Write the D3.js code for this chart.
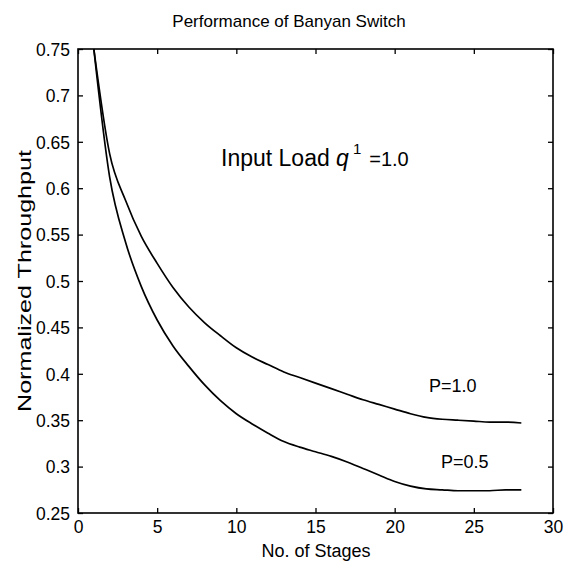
<!DOCTYPE html>
<html>
<head>
<meta charset="utf-8">
<script src="https://cdn.jsdelivr.net/npm/d3@7"></script>
<style>
  html, body { margin: 0; padding: 0; background: #fff; }
  svg { display: block; }
  text { font-family: "Liberation Sans", Arial, Helvetica, sans-serif; fill: #000; }
</style>
</head>
<body>
<svg id="chart" width="567" height="564"></svg>
<script>
// ---- data ----
const stages = [1,2,3,4,5,6,7,8,9,10,11,12,13,14,15,16,17,18,19,20,21,22,23,24,25,26,27,28];
const throughputP10 = [0.750,0.637,0.587,0.548,0.519,0.493,0.472,0.455,0.441,0.428,0.418,0.410,0.402,0.396,0.390,0.384,0.378,0.372,0.367,0.362,0.357,0.353,0.351,0.350,0.349,0.348,0.348,0.347];
const throughputP05 = [0.750,0.612,0.542,0.494,0.458,0.430,0.408,0.388,0.371,0.357,0.346,0.336,0.327,0.321,0.316,0.311,0.305,0.298,0.291,0.284,0.279,0.276,0.275,0.274,0.274,0.274,0.275,0.275];
const xTicks = [0,5,10,15,20,25,30];
const yTicks = [0.25,0.3,0.35,0.4,0.45,0.5,0.55,0.6,0.65,0.7,0.75];
const seriesLabels = ["P=1.0","P=0.5"];

const svg = d3.select("#chart");
const L = 78, R = 553, T = 49, B = 513;

const x = d3.scaleLinear().domain([0,30]).range([L,R]);
const y = d3.scaleLinear().domain([0.25,0.75]).range([B,T]);

const tickLen = 5;
const fmtY = d => String(+d.toFixed(2));

// bottom axis (ticks inward)
const gx = svg.append("g").attr("transform",`translate(0,${B})`)
  .call(d3.axisBottom(x).tickValues(xTicks).tickSize(-tickLen).tickPadding(7).tickFormat(d3.format("d")));
// top mirror
const gxt = svg.append("g").attr("transform",`translate(0,${T})`)
  .call(d3.axisTop(x).tickValues(xTicks).tickSize(-tickLen).tickFormat(""));
// left axis
const gy = svg.append("g").attr("transform",`translate(${L},0)`)
  .call(d3.axisLeft(y).tickValues(yTicks).tickSize(-tickLen).tickPadding(8).tickFormat(fmtY));
// right mirror
const gyr = svg.append("g").attr("transform",`translate(${R},0)`)
  .call(d3.axisRight(y).tickValues(yTicks).tickSize(-tickLen).tickFormat(""));

[gx,gxt,gy,gyr].forEach(g => {
  g.select(".domain").remove();
  g.selectAll(".tick line").attr("stroke","#000").attr("stroke-width",1.3);
  g.selectAll(".tick text").attr("font-size",17.5).attr("fill","#000")
    .attr("font-family",'"Liberation Sans", Arial, sans-serif');
});
gy.selectAll(".tick text").attr("dy","0.36em");
gx.selectAll(".tick text").attr("dy","0.72em");

// frame
svg.append("rect").attr("x",L).attr("y",T).attr("width",R-L).attr("height",B-T)
  .attr("fill","none").attr("stroke","#000").attr("stroke-width",1.6);

// lines
const line = d3.line().x((d,i)=>x(stages[i])).y(d=>y(d)).curve(d3.curveMonotoneX);
[throughputP10, throughputP05].forEach(s => {
  svg.append("path").datum(s).attr("d",line)
    .attr("fill","none").attr("stroke","#000").attr("stroke-width",1.7)
    .attr("stroke-linejoin","round");
});

// title
svg.append("text").attr("x",289).attr("y",27).attr("text-anchor","middle")
  .attr("font-size",17).text("Performance of Banyan Switch");

// axis labels
svg.append("text").attr("x",316).attr("y",557).attr("text-anchor","middle")
  .attr("font-size",18).text("No. of Stages");
svg.append("text").attr("transform","translate(31,281) rotate(-90)")
  .attr("text-anchor","middle").attr("font-size",19)
  .attr("textLength",262).attr("lengthAdjust","spacingAndGlyphs")
  .text("Normalized Throughput");

// annotation
const ann = svg.append("text").attr("x",221).attr("y",166).attr("font-size",23);
ann.append("tspan").text("Input Load ");
ann.append("tspan").attr("font-style","italic").text("q");
ann.append("tspan").attr("font-size",15).attr("dy",-12).attr("dx",4).text("1");
ann.append("tspan").attr("font-size",20).attr("dy",12).attr("dx",8).text("=1.0");

// series labels
svg.append("text").attr("x",429).attr("y",392).attr("font-size",18).text(seriesLabels[0]);
svg.append("text").attr("x",441).attr("y",468).attr("font-size",18).text(seriesLabels[1]);
</script>
</body>
</html>
